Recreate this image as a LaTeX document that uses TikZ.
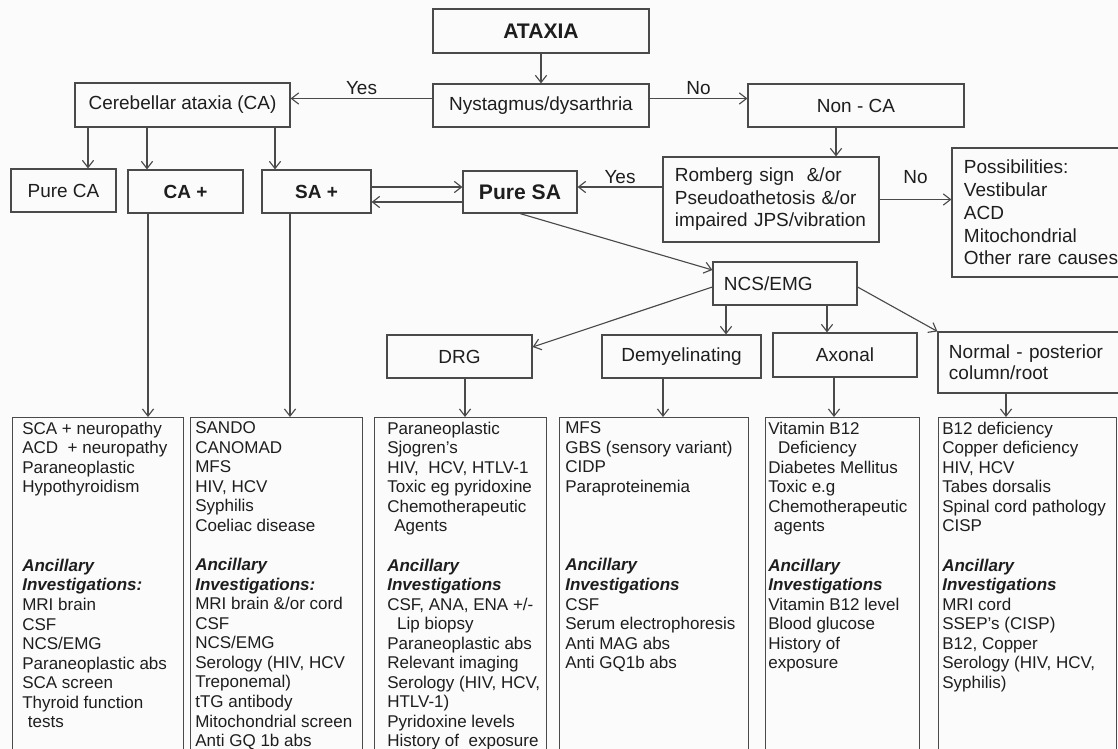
\documentclass[tikz,border=0pt]{standalone}
\usepackage{fontspec}
\setmainfont{Liberation Sans}
\usetikzlibrary{arrows.meta, calc}

\definecolor{linegray}{HTML}{4A4A4A}
\definecolor{inkgray}{HTML}{1E1E1E}
\definecolor{paper}{HTML}{FBFBFB}

\newcommand{\topfont}{\fontsize{13.5}{16}\selectfont}
\newcommand{\bigfont}{\fontsize{15}{18}\selectfont\bfseries}
\newcommand{\listfont}{\fontsize{12.1}{13.9}\selectfont}
\newcommand{\anc}[1]{\textbf{\textit{#1}}}

\begin{document}
\begin{tikzpicture}[x=0.025cm, y=-0.025cm, >={Straight Barb[length=1.8mm, width=2.8mm]},
  every node/.style={font=\topfont, text=inkgray},
  box/.style={draw=linegray, line width=0.8pt, inner sep=0pt, align=center},
  leftbox/.style={draw=linegray, line width=0.8pt, inner ysep=0pt, align=left},
  listbox/.style={draw=linegray, line width=0.8pt, inner sep=0pt, anchor=north west, minimum height=8.575cm},
  listtext/.style={anchor=north west, inner sep=0pt, align=left, font=\listfont},
  arr/.style={->, draw=linegray, line width=0.8pt},
  yn/.style={midway, above, inner sep=2pt}]
  \useasboundingbox[fill=paper] (0,0) rectangle (1118,749);

  % top rows
  \node[box, minimum width=5.4cm, minimum height=1.1cm, font=\bigfont] (ataxia) at (541,31) {ATAXIA};
  \node[box, minimum width=5.4cm, minimum height=1.075cm] (nyst) at (541,105.5) {Nystagmus/dysarthria};
  \node[box, minimum width=5.375cm, minimum height=1.1cm] (ca) at (182.5,105) {Cerebellar ataxia (CA)};
  \node[box, minimum width=5.4cm, minimum height=1.075cm] (nonca) at (856,105.5) {Non - CA};
  \node[box, minimum width=2.625cm, minimum height=1.075cm] (pureca) at (63.5,190.5) {Pure CA};
  \node[box, minimum width=2.875cm, minimum height=1.075cm, font=\topfont\bfseries] (caplus) at (185.5,191.5) {CA +};
  \node[box, minimum width=2.725cm, minimum height=1.075cm, font=\topfont\bfseries] (saplus) at (316.5,191.5) {SA +};
  \node[box, minimum width=2.85cm, minimum height=1.05cm, font=\bigfont] (puresa) at (520,192) {Pure SA};
  \node[leftbox, inner xsep=0.3cm, text width=4.8cm, minimum height=2.125cm] (romberg) at (771,199.5)
    {Romberg sign~ \&/or\\Pseudoathetosis \&/or\\impaired JPS/vibration};
  \node[leftbox, inner xsep=0.3cm, text width=4.25cm, minimum height=3.225cm, font=\fontsize{13.5}{16.2}\selectfont] (poss) at (1049,212.5)
    {Possibilities:\\Vestibular\\ACD\\Mitochondrial\\Other rare causes};
  \node[leftbox, inner xsep=0.275cm, text width=3.05cm, minimum height=1.075cm] (ncs) at (785,283.5) {NCS/EMG};
  \node[box, minimum width=3.625cm, minimum height=1.075cm] (drg) at (459.5,356.5) {DRG};
  \node[box, minimum width=3.975cm, minimum height=1.075cm] (demy) at (681.5,356.5) {Demyelinating};
  \node[box, minimum width=3.6cm, minimum height=1.1cm] (axonal) at (845,355) {Axonal};
  \node[leftbox, inner xsep=0.275cm, text width=4.25cm, minimum height=1.525cm, font=\fontsize{13.5}{15}\selectfont] (normal) at (1034,362.5)
    {Normal - posterior\\column/root};

  % bottom lists
  \node[listbox, minimum width=4.275cm] (caList) at (12,417) {};
  \node[listbox, minimum width=4.3cm] (saList) at (190,417) {};
  \node[listbox, minimum width=4.3cm] (drgList) at (374,417) {};
  \node[listbox, minimum width=4.725cm] (demyList) at (559,417) {};
  \node[listbox, minimum width=3.85cm] (axList) at (765,417) {};
  \node[listbox, minimum width=4.45cm] (normList) at (938,417) {};

  \node[listtext] (caText) at ($(caList.north west)+(10,4.5)$)
    {SCA + neuropathy\\ACD~ + neuropathy\\Paraneoplastic\\Hypothyroidism\\[42pt]
     \anc{Ancillary}\\\anc{Investigations:}\\MRI brain\\CSF\\NCS/EMG\\Paraneoplastic abs\\SCA screen\\Thyroid function\\\hspace*{4pt}tests};
  \node[listtext] (saText) at ($(saList.north west)+(5,4.5)$)
    {SANDO\\CANOMAD\\MFS\\HIV, HCV\\Syphilis\\Coeliac disease\\[14pt]
     \anc{Ancillary}\\\anc{Investigations:}\\MRI brain \&/or cord\\CSF\\NCS/EMG\\Serology (HIV, HCV\\Treponemal)\\tTG antibody\\Mitochondrial screen\\Anti GQ 1b abs};
  \node[listtext] (drgText) at ($(drgList.north west)+(13,4.5)$)
    {Paraneoplastic\\Sjogren's\\HIV,~ HCV, HTLV-1\\Toxic eg pyridoxine\\Chemotherapeutic\\\hspace*{5pt}Agents\\[14pt]
     \anc{Ancillary}\\\anc{Investigations}\\CSF, ANA, ENA +/-\\\hspace*{7pt}Lip biopsy\\Paraneoplastic abs\\Relevant imaging\\Serology (HIV, HCV,\\HTLV-1)\\Pyridoxine levels\\History of~ exposure};
  \node[listtext] (demyText) at ($(demyList.north west)+(6,4.5)$)
    {MFS\\GBS (sensory variant)\\CIDP\\Paraproteinemia\\[42pt]
     \anc{Ancillary}\\\anc{Investigations}\\CSF\\Serum electrophoresis\\Anti MAG abs\\Anti GQ1b abs};
  \node[listtext] (axText) at ($(axList.north west)+(3,4.5)$)
    {Vitamin B12\\\hspace*{7pt}Deficiency\\Diabetes Mellitus\\Toxic e.g\\Chemotherapeutic\\\hspace*{4pt}agents\\[14pt]
     \anc{Ancillary}\\\anc{Investigations}\\Vitamin B12 level\\Blood glucose\\History of\\exposure};
  \node[listtext] (normText) at ($(normList.north west)+(4,4.5)$)
    {B12 deficiency\\Copper deficiency\\HIV, HCV\\Tabes dorsalis\\Spinal cord pathology\\CISP\\[14pt]
     \anc{Ancillary}\\\anc{Investigations}\\MRI cord\\SSEP's (CISP)\\B12, Copper\\Serology (HIV, HCV,\\Syphilis)};

  % connectors
  \draw[arr] (ataxia) -- (nyst);
  \coordinate (yesA) at ($(nyst.west)+(0,-7)$);
  \draw[arr] (yesA) -- (yesA -| ca.east) node[yn] {Yes};
  \coordinate (noA) at ($(nyst.east)+(0,-7)$);
  \draw[arr] (noA) -- (noA -| nonca.west) node[yn] {No};
  \coordinate (caA) at ($(ca.south)+(-94.5,0)$);
  \coordinate (caB) at ($(ca.south)+(-35.5,0)$);
  \coordinate (caC) at ($(ca.south)+(92.5,0)$);
  \draw[arr] (caA) -- (caA |- pureca.north);
  \draw[arr] (caB) -- (caB |- caplus.north);
  \draw[arr] (caC) -- (caC |- saplus.north);
  \coordinate (ncA) at ($(nonca.south)+(-20,0)$);
  \draw[arr] (ncA) -- (ncA |- romberg.north);
  \coordinate (rbA) at ($(romberg.west)+(0,-12.5)$);
  \draw[arr] (rbA) -- (rbA -| puresa.east) node[yn] {Yes};
  \draw[arr] (romberg.east) -- (romberg.east -| poss.west) node[yn, above=9pt] {No};
  \coordinate (spA) at ($(saplus.east)+(0,-4.5)$);
  \draw[arr] (spA) -- (spA -| puresa.west);
  \coordinate (spB) at ($(puresa.west)+(0,10)$);
  \draw[arr] (spB) -- (spB -| saplus.east);
  \coordinate (nsIn) at ($(ncs.west)+(0,-13.5)$);
  \draw[arr] (puresa.south) -- (nsIn);
  \coordinate (ndA) at ($(ncs.west)+(0,3.5)$);
  \coordinate (ndB) at ($(drg.east)+(0,-9.5)$);
  \draw[arr] (ndA) -- (ndB);
  \coordinate (nsB) at ($(ncs.south)+(-59,0)$);
  \draw[arr] (nsB) -- (nsB |- demy.north);
  \coordinate (nsC) at ($(ncs.south)+(42,0)$);
  \draw[arr] (nsC) -- (nsC |- axonal.north);
  \coordinate (nsD) at ($(ncs.east)+(0,3.5)$);
  \draw[arr] (nsD) -- (normal.north west);

  \coordinate (lA) at ($(caplus.south)+(-37.5,0)$);
  \draw[arr] (lA) -- (lA |- caList.north);
  \coordinate (lB) at ($(saplus.south)+(-26.5,0)$);
  \draw[arr] (lB) -- (lB |- saList.north);
  \coordinate (lC) at ($(drg.south)+(5.5,0)$);
  \draw[arr] (lC) -- (lC |- drgList.north);
  \coordinate (lD) at ($(demy.south)+(-18.5,0)$);
  \draw[arr] (lD) -- (lD |- demyList.north);
  \coordinate (lE) at ($(axonal.south)+(-11,0)$);
  \draw[arr] (lE) -- (lE |- axList.north);
  \coordinate (lF) at ($(normal.south)+(-28,0)$);
  \draw[arr] (lF) -- (lF |- normList.north);
\end{tikzpicture}
\end{document}
